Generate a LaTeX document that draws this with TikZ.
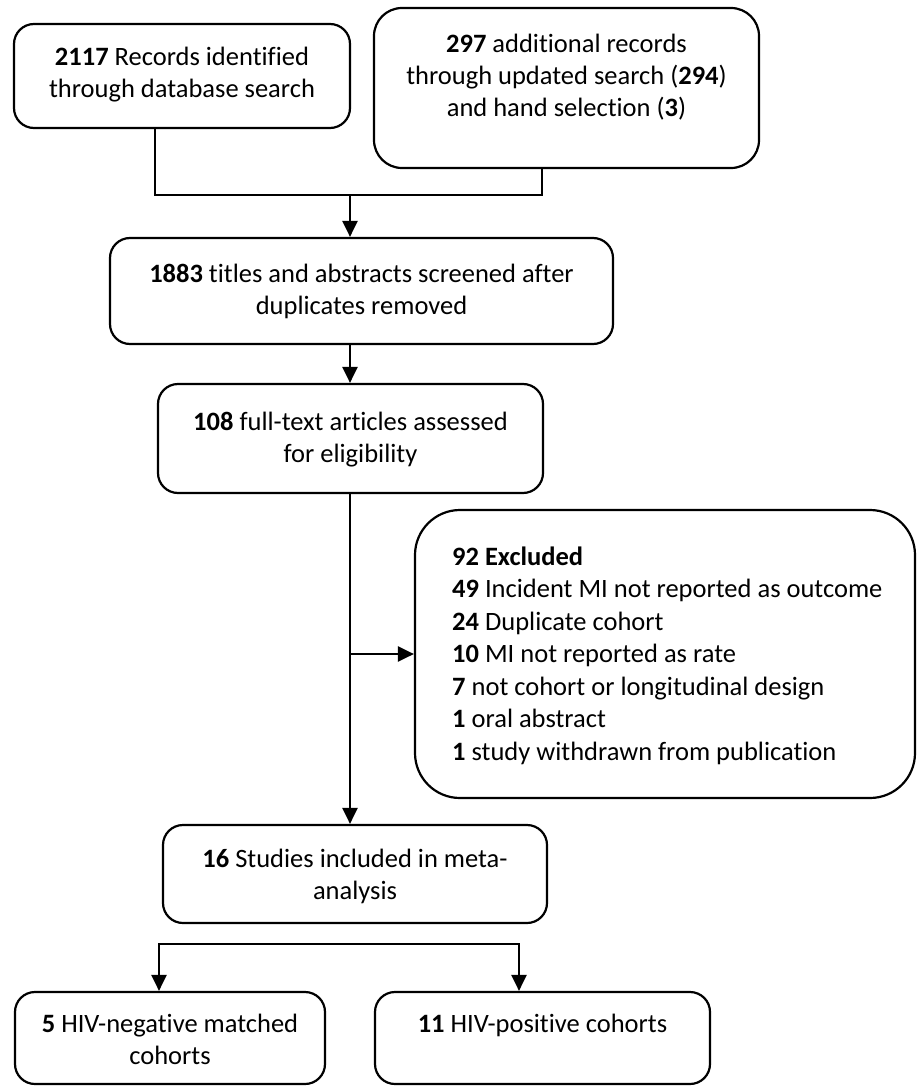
\documentclass[tikz,border=0pt]{standalone}
\usepackage{fontspec}
\setmainfont{Carlito}[Ligatures={NoCommon}]
\usetikzlibrary{arrows.meta}
\newcommand\mlinesc[1]{\begin{tabular}[t]{@{}c@{}}#1\end{tabular}}
\newcommand\mlinesl[1]{\begin{tabular}[t]{@{}l@{}}#1\end{tabular}}
\tikzset{
  box/.style={draw=black, line width=2.2pt, rounded corners=20pt, inner sep=0pt},
  txt/.style={inner sep=0pt, font=\fontsize{26.5}{32}\selectfont, text=black},
  conn/.style={draw=black, line width=2.2pt},
  tip/.tip={Triangle[width=15pt,length=16pt]},
}
\begin{document}
\begin{tikzpicture}[x=1pt,y=-1pt]
\useasboundingbox (0,0) rectangle (916,1086);
% boxes
\node[box, minimum width=336pt, minimum height=104pt] (A) at (182,76) {};
\node[box, rounded corners=28pt, minimum width=385pt, minimum height=160pt] (B) at (566.5,88) {};
\node[box, minimum width=503pt, minimum height=106pt] (C) at (361.5,291) {};
\node[box, minimum width=385pt, minimum height=109pt] (D) at (350.5,438.5) {};
\node[box, rounded corners=45pt, minimum width=500pt, minimum height=288pt] (F) at (665,654) {};
\node[box, minimum width=384pt, minimum height=98pt] (G) at (355,874) {};
\node[box, minimum width=310pt, minimum height=92pt] (H) at (170,1038) {};
\node[box, minimum width=335pt, minimum height=92pt] (I) at (542.5,1038) {};
% texts
\node[txt, anchor=base] (tA) at (182,66) {\mlinesc{\textbf{2117} Records identified\\through database search}};
\node[txt, anchor=base] (tB) at (566.5,53) {\mlinesc{\textbf{297} additional records\\through updated search (\textbf{294})\\and hand selection (\textbf{3})}};
\node[txt, anchor=base] (tC) at (361.5,282) {\mlinesc{\textbf{1883} titles and abstracts screened after\\duplicates removed}};
\node[txt, anchor=base] (tD) at (350.5,430) {\mlinesc{\textbf{108} full-text articles assessed\\for eligibility}};
\node[txt, anchor=base west, font=\fontsize{26.5}{32.5}\selectfont] (tF) at (452,565) {\mlinesl{\textbf{92 Excluded}\\
\textbf{49} Incident MI not reported as outcome\\
\textbf{24} Duplicate cohort\\
\textbf{10} MI not reported as rate\\
\textbf{7} not cohort or longitudinal design\\
\textbf{1} oral abstract\\
\textbf{1} study withdrawn from publication}};
\node[txt, anchor=base] (tG) at (355,867) {\mlinesc{\textbf{16} Studies included in meta-\\analysis}};
\node[txt, anchor=base] (tH) at (170,1032) {\mlinesc{\textbf{5} HIV-negative matched\\cohorts}};
\node[txt, anchor=base] (tI) at (542.5,1032) {\mlinesc{\textbf{11} HIV-positive cohorts}};
% junction coordinates
\coordinate (jA) at (155,195);
\coordinate (jB) at (542,195);
\coordinate (j1) at (350,195);
\coordinate (j2) at (350,654);
\coordinate (jL) at (159,944);
\coordinate (jR) at (519,944);
% connectors
\draw[conn] (A.south -| jA) -- (jA) -- (jB) -- (B.south -| jB);
\draw[conn, -tip] (j1) -- (C.north -| j1);
\draw[conn, -tip] (C.south -| j1) -- (D.north -| j1);
\draw[conn, -tip] (D.south -| j1) -- (G.north -| j1);
\draw[conn, -tip] (j2) -- (F.west);
\draw[conn, tip-tip] (H.north -| jL) -- (jL) -- (jR) -- (I.north -| jR);
\end{tikzpicture}
\end{document}
